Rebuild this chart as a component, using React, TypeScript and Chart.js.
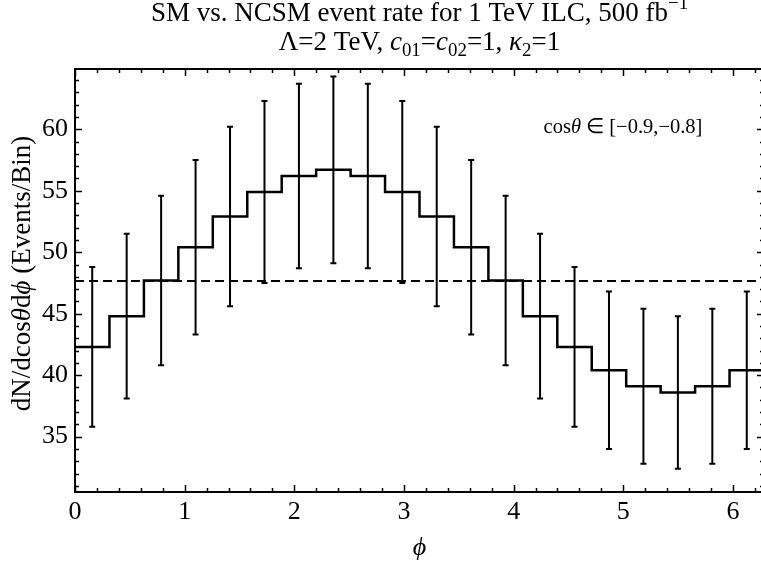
import React, { useEffect, useRef } from "react";
import { Chart, registerables } from "chart.js";

Chart.register(...registerables);

// ---- data ----
const PHI_MAX = 2 * Math.PI;
const BIN_COUNT = 20;
// NCSM event counts per bin (step histogram)
const binValues = [42.3, 44.8, 47.7, 50.4, 52.9, 54.9, 56.2, 56.7, 56.2, 54.9, 52.9, 50.4, 47.7, 44.8, 42.3, 40.4, 39.1, 38.6, 39.1, 40.4];
// statistical error per bin
const binErrors = [6.5, 6.7, 6.9, 7.1, 7.3, 7.4, 7.5, 7.6, 7.5, 7.4, 7.3, 7.1, 6.9, 6.7, 6.5, 6.4, 6.3, 6.2, 6.3, 6.4];
// SM (flat) expectation
const smLevel = 47.65;
const xTickValues = [0, 1, 2, 3, 4, 5, 6];
const yTickValues = [35, 40, 45, 50, 55, 60];
const Y_MIN = 30.5;
const Y_MAX = 64.9;

const FONT = '"Liberation Serif", "Times New Roman", serif';

type Run = { t: string; i?: boolean; sub?: boolean; sup?: boolean };

function drawRich(ctx: CanvasRenderingContext2D, runs: Run[], x: number, y: number, size: number, align: "center" | "left" = "center") {
  const fontFor = (r: Run) => {
    const sz = r.sub || r.sup ? size * 0.7 : size;
    return `${r.i ? "italic " : ""}${sz}px ${FONT}`;
  };
  ctx.save();
  ctx.textBaseline = "middle";
  ctx.textAlign = "left";
  ctx.fillStyle = "#000";
  let total = 0;
  const widths = runs.map((r) => {
    ctx.font = fontFor(r);
    const w = ctx.measureText(r.t).width;
    total += w;
    return w;
  });
  let cx = align === "center" ? x - total / 2 : x;
  runs.forEach((r, k) => {
    ctx.font = fontFor(r);
    const dy = r.sub ? size * 0.28 : r.sup ? -size * 0.38 : 0;
    ctx.fillText(r.t, cx, y + dy);
    cx += widths[k];
  });
  ctx.restore();
}

const decorPlugin = {
  id: "decor",
  afterDatasetsDraw(chart: any) {
    const ctx: CanvasRenderingContext2D = chart.ctx;
    const xs = chart.scales.x;
    const ys = chart.scales.y;
    const { left, right, top, bottom } = chart.chartArea;

    // error bars
    ctx.save();
    ctx.beginPath();
    ctx.rect(left, top, right - left, bottom - top);
    ctx.clip();
    ctx.strokeStyle = "#000";
    ctx.lineWidth = 2;
    const bw = PHI_MAX / BIN_COUNT;
    binValues.forEach((v, i) => {
      const px = xs.getPixelForValue((i + 0.5) * bw);
      const pTop = ys.getPixelForValue(v + binErrors[i]);
      const pBot = ys.getPixelForValue(v - binErrors[i]);
      ctx.beginPath();
      ctx.moveTo(px, pTop);
      ctx.lineTo(px, pBot);
      ctx.moveTo(px - 3, pTop);
      ctx.lineTo(px + 3, pTop);
      ctx.moveTo(px - 3, pBot);
      ctx.lineTo(px + 3, pBot);
      ctx.stroke();
    });
    ctx.restore();

    // frame top/right
    ctx.save();
    ctx.strokeStyle = "#000";
    ctx.lineWidth = 2;
    ctx.beginPath();
    ctx.moveTo(left - 1, top);
    ctx.lineTo(right, top);
    ctx.lineTo(right, bottom);
    ctx.stroke();

    // inward ticks
    ctx.lineWidth = 1.5;
    ctx.beginPath();
    for (let k = 0; k <= 31; k++) {
      const v = k * 0.2;
      if (v > PHI_MAX) break;
      const major = k % 5 === 0;
      const len = major ? 7 : 4;
      const px = Math.round(xs.getPixelForValue(v)) + 0.5;
      ctx.moveTo(px, bottom);
      ctx.lineTo(px, bottom - len);
      ctx.moveTo(px, top);
      ctx.lineTo(px, top + len);
    }
    for (let v = Math.ceil(Y_MIN); v <= Y_MAX; v++) {
      const major = v % 5 === 0;
      const len = major ? 7 : 4;
      const py = Math.round(ys.getPixelForValue(v)) + 0.5;
      ctx.moveTo(left, py);
      ctx.lineTo(left + len, py);
      ctx.moveTo(right, py);
      ctx.lineTo(right - len, py);
    }
    ctx.stroke();
    ctx.restore();

    // texts
    const midX = (left + right) / 2;
    drawRich(ctx, [{ t: "SM vs. NCSM event rate for 1 TeV ILC, 500 fb" }, { t: "\u22121", sup: true }], midX, 14, 27);
    drawRich(
      ctx,
      [
        { t: "\u039B=2 TeV, " },
        { t: "c", i: true },
        { t: "01", sub: true },
        { t: "=" },
        { t: "c", i: true },
        { t: "02", sub: true },
        { t: "=1, " },
        { t: "\u03BA", i: true },
        { t: "2", sub: true },
        { t: "=1" },
      ],
      midX,
      43,
      27
    );
    drawRich(ctx, [{ t: "cos" }, { t: "\u03B8", i: true }, { t: " \u2208 [\u22120.9,\u22120.8]" }], 623, 128, 20.5);
    drawRich(ctx, [{ t: "\u03D5", i: true }], midX, 548, 26);

    ctx.save();
    ctx.translate(23, (top + bottom) / 2 - 7);
    ctx.rotate(-Math.PI / 2);
    drawRich(ctx, [{ t: "dN/dcos" }, { t: "\u03B8", i: true }, { t: "d" }, { t: "\u03D5", i: true }, { t: " (Events/Bin)" }], 0, 0, 27);
    ctx.restore();
  },
};

export default function App() {
  const ref = useRef<HTMLCanvasElement | null>(null);
  useEffect(() => {
    if (!ref.current) return;
    const bw = PHI_MAX / BIN_COUNT;
    const stepData = binValues.map((v, i) => ({ x: i * bw, y: v }));
    stepData.push({ x: PHI_MAX, y: binValues[binValues.length - 1] });
    const chart = new Chart(ref.current, {
      type: "line",
      data: {
        datasets: [
          {
            data: [
              { x: 0, y: smLevel },
              { x: PHI_MAX, y: smLevel },
            ],
            borderColor: "#000",
            borderWidth: 2,
            borderDash: [9, 5],
            pointRadius: 0,
            fill: false,
          },
          {
            data: stepData,
            borderColor: "#000",
            borderWidth: 2.5,
            stepped: "before",
            pointRadius: 0,
            fill: false,
          },
        ],
      },
      options: {
        responsive: false,
        animation: false,
        devicePixelRatio: 1,
        layout: { padding: { top: 69, right: 16, left: 0, bottom: 0 } },
        plugins: { legend: { display: false }, tooltip: { enabled: false }, title: { display: false } },
        scales: {
          x: {
            type: "linear",
            min: 0,
            max: PHI_MAX,
            afterBuildTicks: (s: any) => {
              s.ticks = xTickValues.map((v) => ({ value: v }));
            },
            afterFit: (s: any) => {
              s.height = 73;
            },
            grid: { display: false, drawTicks: false },
            border: { display: true, color: "#000", width: 2 },
            ticks: { color: "#000", font: { family: FONT, size: 26 }, padding: 5, maxRotation: 0, autoSkip: false },
          },
          y: {
            type: "linear",
            min: Y_MIN,
            max: Y_MAX,
            afterBuildTicks: (s: any) => {
              s.ticks = yTickValues.map((v) => ({ value: v }));
            },
            afterFit: (s: any) => {
              s.width = 75;
            },
            grid: { display: false, drawTicks: false },
            border: { display: true, color: "#000", width: 2 },
            ticks: { color: "#000", font: { family: FONT, size: 26 }, padding: 7, autoSkip: false },
          },
        },
      },
      plugins: [decorPlugin],
    } as any);
    return () => chart.destroy();
  }, []);
  return (
    <div style={{ position: "fixed", left: 0, top: 0, width: 761, height: 565, overflow: "hidden", background: "#fff" }}>
      <canvas ref={ref} width={780} height={565} style={{ display: "block" }} />
    </div>
  );
}
